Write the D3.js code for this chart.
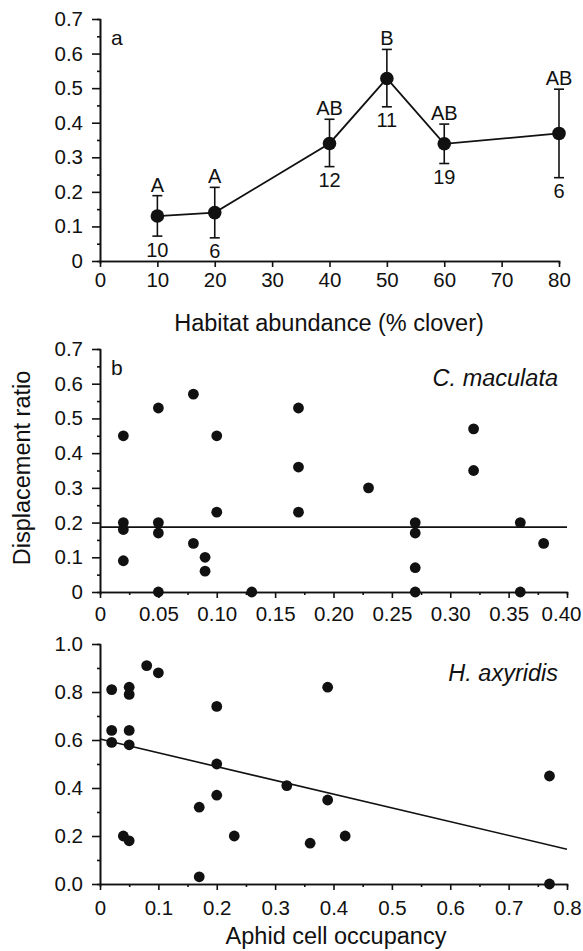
<!DOCTYPE html>
<html lang="en">
<head>
<meta charset="utf-8">
<title>Displacement ratio</title>
<script src="https://cdn.jsdelivr.net/npm/d3@7"></script>
<style>
body { margin: 0; background: #fff; }
svg text { font-family: "Liberation Sans", Arial, sans-serif; fill: #111; }
.axis path, .axis line { stroke: #111; stroke-width: 1.6; }
.axis text { font-size: 20.5px; }
</style>
</head>
<body>
<div id="container"></div>
<script>
// panel a: habitat abundance
var habitat = [10, 20, 40, 50, 60, 80];
var habMean = [0.13, 0.14, 0.34, 0.528, 0.339, 0.369];
var habHigh = [0.189, 0.213, 0.41, 0.612, 0.396, 0.497];
var habLow = [0.072, 0.067, 0.273, 0.446, 0.282, 0.241];
var habLetter = ["A", "A", "AB", "B", "AB", "AB"];
var habN = ["10", "6", "12", "11", "19", "6"];

// panel b: C. maculata
var cmX = [0.02, 0.02, 0.02, 0.02, 0.05, 0.05, 0.05, 0.05, 0.08, 0.08, 0.09, 0.09, 0.10, 0.10, 0.13,
           0.17, 0.17, 0.17, 0.23, 0.27, 0.27, 0.27, 0.27, 0.32, 0.32, 0.36, 0.36, 0.38];
var cmY = [0.45, 0.20, 0.18, 0.09, 0.53, 0.20, 0.17, 0.00, 0.57, 0.14, 0.10, 0.06, 0.45, 0.23, 0.00,
           0.53, 0.36, 0.23, 0.30, 0.20, 0.17, 0.07, 0.00, 0.47, 0.35, 0.20, 0.00, 0.14];
var cmFit = [0.187, 0.187]; // flat line at x = 0 and x = 0.40

// panel c: H. axyridis
var haX = [0.02, 0.02, 0.02, 0.04, 0.05, 0.05, 0.05, 0.05, 0.05, 0.08, 0.10, 0.17, 0.17,
           0.20, 0.20, 0.20, 0.23, 0.32, 0.36, 0.39, 0.39, 0.42, 0.77, 0.77];
var haY = [0.81, 0.64, 0.59, 0.20, 0.82, 0.79, 0.64, 0.58, 0.18, 0.91, 0.88, 0.32, 0.03,
           0.74, 0.50, 0.37, 0.20, 0.41, 0.17, 0.82, 0.35, 0.20, 0.45, 0.00];
var haFit = [0.604, 0.145]; // at x = 0 and x = 0.8

var svg = d3.select("#container").append("svg")
    .attr("width", 583).attr("height", 951);

function fmt(dec) {
    return function (d) { return d === 0 ? "0" : d.toFixed(dec); };
}
function steps(a, b, s) {
    return d3.range(a, b + s / 2, s).map(function (v) { return +v.toFixed(3); });
}

function axes(g, x, y, xTicks, yTicks, xMinor, yMinor, xFmt, yFmt, xPad) {
    var x0 = y.range()[0];
    g.append("g").attr("class", "axis")
        .attr("transform", "translate(0," + x0 + ")")
        .call(d3.axisBottom(x).tickValues(xMinor).tickSize(3).tickFormat(""));
    var xa = g.append("g").attr("class", "axis")
        .attr("transform", "translate(0," + x0 + ")")
        .call(d3.axisBottom(x).tickValues(xTicks).tickSizeOuter(0).tickSizeInner(6)
            .tickPadding(xPad).tickFormat(xFmt));
    g.append("g").attr("class", "axis")
        .attr("transform", "translate(" + x.range()[0] + ",0)")
        .call(d3.axisLeft(y).tickValues(yMinor).tickSize(3).tickFormat(""));
    g.append("g").attr("class", "axis")
        .attr("transform", "translate(" + x.range()[0] + ",0)")
        .call(d3.axisLeft(y).tickValues(yTicks).tickSizeOuter(0).tickSizeInner(8)
            .tickPadding(9).tickFormat(yFmt));
    g.selectAll(".axis .domain").attr("stroke-width", 2);
    return xa;
}

// ---- panel a
var xa = d3.scaleLinear().domain([0, 80]).range([100, 559]);
var ya = d3.scaleLinear().domain([0, 0.7]).range([261, 19]);
var ga = svg.append("g");
axes(ga, xa, ya, steps(0, 80, 10), steps(0, 0.7, 0.1),
    [], steps(0.05, 0.65, 0.1), fmt(0), fmt(1), 5);

ga.append("path")
    .datum(habitat.map(function (h, i) { return [h, habMean[i]]; }))
    .attr("fill", "none").attr("stroke", "#111").attr("stroke-width", 1.8)
    .attr("d", d3.line().x(function (d) { return xa(d[0]); }).y(function (d) { return ya(d[1]); }));

habitat.forEach(function (h, i) {
    var cx = xa(h);
    ga.append("line").attr("x1", cx).attr("x2", cx)
        .attr("y1", ya(habLow[i])).attr("y2", ya(habHigh[i]))
        .attr("stroke", "#111").attr("stroke-width", 1.6);
    [habLow[i], habHigh[i]].forEach(function (v) {
        ga.append("line").attr("x1", cx - 5).attr("x2", cx + 5)
            .attr("y1", ya(v)).attr("y2", ya(v))
            .attr("stroke", "#111").attr("stroke-width", 1.6);
    });
    ga.append("circle").attr("cx", cx).attr("cy", ya(habMean[i])).attr("r", 6.8).attr("fill", "#111");
    ga.append("text").attr("x", cx).attr("y", ya(habHigh[i]) - 4)
        .attr("text-anchor", "middle").attr("font-size", 20).text(habLetter[i]);
    ga.append("text").attr("x", cx).attr("y", ya(habLow[i]) + 20.5)
        .attr("text-anchor", "middle").attr("font-size", 20).text(habN[i]);
});

ga.append("text").attr("x", 111).attr("y", 45).attr("font-size", 21).text("a");
ga.append("text").attr("x", 329).attr("y", 331).attr("text-anchor", "middle")
    .attr("font-size", 23.5).text("Habitat abundance (% clover)");

// ---- panel b
var xb = d3.scaleLinear().domain([0, 0.4]).range([100, 567]);
var yb = d3.scaleLinear().domain([0, 0.7]).range([592, 349]);
var gb = svg.append("g");
var xbAxis = axes(gb, xb, yb, steps(0, 0.4, 0.05), steps(0, 0.7, 0.1),
    steps(0.025, 0.375, 0.05), steps(0.05, 0.65, 0.1), fmt(2), fmt(1), 8.5);
// last label pulled in so it stays inside the frame
xbAxis.selectAll(".tick").filter(function (d) { return d === 0.4; })
    .select("text").attr("text-anchor", "end").attr("dx", 14);

gb.append("line").attr("x1", xb(0)).attr("x2", xb(0.4))
    .attr("y1", yb(cmFit[0])).attr("y2", yb(cmFit[1]))
    .attr("stroke", "#111").attr("stroke-width", 1.6);
gb.selectAll("circle").data(cmX).enter().append("circle")
    .attr("cx", function (d) { return xb(d); })
    .attr("cy", function (d, i) { return yb(cmY[i]); })
    .attr("r", 5.4).attr("fill", "#111");

gb.append("text").attr("x", 111).attr("y", 375).attr("font-size", 21).text("b");
gb.append("text").attr("x", 558).attr("y", 386).attr("text-anchor", "end")
    .attr("font-size", 23.5).attr("font-style", "italic").text("C. maculata");
svg.append("text").attr("transform", "translate(30,468) rotate(-90)")
    .attr("text-anchor", "middle").attr("font-size", 23.5).text("Displacement ratio");

// ---- panel c
var xc = d3.scaleLinear().domain([0, 0.8]).range([100, 567]);
var yc = d3.scaleLinear().domain([0, 1]).range([884, 644]);
var gc = svg.append("g");
axes(gc, xc, yc, steps(0, 0.8, 0.1), steps(0, 1, 0.2),
    steps(0.05, 0.75, 0.1), steps(0.1, 0.9, 0.2), fmt(1),
    function (d) { return d.toFixed(1); }, 10);

gc.append("line").attr("x1", xc(0)).attr("x2", xc(0.8))
    .attr("y1", yc(haFit[0])).attr("y2", yc(haFit[1]))
    .attr("stroke", "#111").attr("stroke-width", 1.6);
gc.selectAll("circle").data(haX).enter().append("circle")
    .attr("cx", function (d) { return xc(d); })
    .attr("cy", function (d, i) { return yc(haY[i]); })
    .attr("r", 5.4).attr("fill", "#111");

gc.append("text").attr("x", 558).attr("y", 681).attr("text-anchor", "end")
    .attr("font-size", 23.5).attr("font-style", "italic").text("H. axyridis");
gc.append("text").attr("x", 336).attr("y", 944).attr("text-anchor", "middle")
    .attr("font-size", 23.5).text("Aphid cell occupancy");
</script>
</body>
</html>
